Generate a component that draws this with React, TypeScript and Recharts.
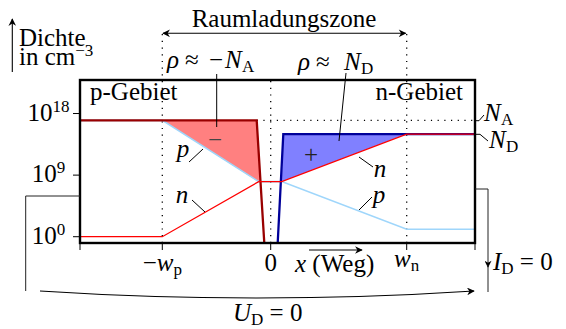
import { ComposedChart, Line, Area, XAxis, YAxis, ReferenceLine } from "recharts";

const W = 566;
const H = 329;
const FONT = "'Liberation Serif', serif";

// x: position along the diode (0 = junction), y: log10 of the density in cm^-3
const xRange = [-19.07, 20.43];
const yRange = [-0.92, 22.9];
const xTickPos = [-19.07, -10.84, 0, 13.6, 20.43];
const xTickMain = ["", "−w", "0", "w", ""];
const xTickSub = ["", "p", "", "n", ""];
const yTickPos = [0, 9, 18];
const yTickExp = ["0", "9", "18"];

// electrons
const nX = [-19.07, -10.84, -1.2, 1.1, 13.6, 20.43];
const nLog = [0, 0, 8.05, 8.05, 15, 15];
// holes
const pX = [-19.07, -10.84, -1.2, 1.1, 13.6, 20.43];
const pLog = [17, 17, 8.05, 8.05, 1.1, 1.1];
// acceptors
const naX = [-19.07, -1.4, -0.64];
const naLog = [17, 17, -0.92];
// donors
const ndX = [0.7, 1.26, 20.43];
const ndLog = [-0.92, 15, 15];
// negative space charge
const negX = [-10.84, -1.4, -1.07];
const negLow = [17, 8.2, 8.05];
const negHigh = [17, 17, 8.05];
// positive space charge
const posX = [1.1, 1.26, 13.6];
const posLow = [8.05, 8.14, 15];
const posHigh = [8.05, 15, 15];

const pts = (xs: number[], ys: number[]) => xs.map((x, i) => ({ x, v: ys[i] }));
const band = (xs: number[], lo: number[], hi: number[]) =>
    xs.map((x, i) => ({ x, r: [lo[i], hi[i]] }));

function XTick(props: any) {
    const { x, payload } = props;
    const i = xTickPos.indexOf(payload.value);
    if (i < 0 || !xTickMain[i]) return <g />;
    const main = xTickMain[i];
    const sub = xTickSub[i];
    const base = 243 + (sub === "n" ? 24 : 28);
    return (
        <text x={x} y={base} textAnchor="middle" style={{ fontFamily: FONT, fontSize: 25 }} fill="#000">
            {main.startsWith("−") ? <tspan>−</tspan> : null}
            {main === "0" ? <tspan>0</tspan> : <tspan fontStyle="italic">w</tspan>}
            {sub ? <tspan dy={4} fontSize={17}>{sub}</tspan> : null}
        </text>
    );
}

function YTick(props: any) {
    const { y, payload } = props;
    const i = yTickPos.indexOf(payload.value);
    return (
        <text x={48.5} y={y + 7} textAnchor="middle" style={{ fontFamily: FONT, fontSize: 25 }} fill="#000">
            10<tspan dy={-9} fontSize={17}>{yTickExp[i]}</tspan>
        </text>
    );
}

const dots = "1.2 5.5";

export default function App() {
    return (
        <div style={{ position: "absolute", left: 0, top: 0, width: W, height: H, background: "#fff", fontFamily: FONT }}>
            <ComposedChart width={W} height={H} margin={{ top: 80, right: 91, bottom: 46, left: 20 }}>
                <XAxis
                    type="number"
                    dataKey="x"
                    domain={xRange}
                    allowDataOverflow
                    ticks={xTickPos}
                    interval={0}
                    height={40}
                    tickSize={7}
                    axisLine={false}
                    tickLine={{ stroke: "#000", strokeWidth: 1 }}
                    tick={XTick}
                />
                <YAxis
                    type="number"
                    domain={yRange}
                    allowDataOverflow
                    ticks={yTickPos}
                    interval={0}
                    width={60}
                    tickSize={7}
                    axisLine={false}
                    tickLine={{ stroke: "#000", strokeWidth: 1 }}
                    tick={YTick}
                />
                <ReferenceLine
                    segment={[{ x: xTickPos[1], y: yRange[0] }, { x: xTickPos[1], y: 29.8 }]}
                    ifOverflow="visible"
                    stroke="#000"
                    strokeWidth={1.3}
                    strokeDasharray={dots}
                />
                <ReferenceLine x={0} stroke="#000" strokeWidth={1.3} strokeDasharray={dots} />
                <ReferenceLine
                    segment={[{ x: xTickPos[3], y: yRange[0] }, { x: xTickPos[3], y: 29.8 }]}
                    ifOverflow="visible"
                    stroke="#000"
                    strokeWidth={1.3}
                    strokeDasharray={dots}
                />
                <ReferenceLine
                    segment={[{ x: naX[1], y: naLog[0] }, { x: xRange[1], y: naLog[0] }]}
                    stroke="#000"
                    strokeWidth={1.3}
                    strokeDasharray={dots}
                />
                <Area
                    data={band(negX, negLow, negHigh)}
                    dataKey="r"
                    type="linear"
                    fill="#ff8080"
                    fillOpacity={1}
                    stroke="none"
                    isAnimationActive={false}
                />
                <Area
                    data={band(posX, posLow, posHigh)}
                    dataKey="r"
                    type="linear"
                    fill="#8080ff"
                    fillOpacity={1}
                    stroke="none"
                    isAnimationActive={false}
                />
                <Line data={pts(pX, pLog)} dataKey="v" type="linear" stroke="#9fd6fb" strokeWidth={1.6} dot={false} activeDot={false} isAnimationActive={false} />
                <Line data={pts(naX, naLog)} dataKey="v" type="linear" stroke="#990000" strokeWidth={2.3} dot={false} activeDot={false} isAnimationActive={false} />
                <Line data={pts(ndX, ndLog)} dataKey="v" type="linear" stroke="#000099" strokeWidth={2.3} dot={false} activeDot={false} isAnimationActive={false} />
                <Line data={pts(nX, nLog)} dataKey="v" type="linear" stroke="#ff0000" strokeWidth={1.3} dot={false} activeDot={false} isAnimationActive={false} />
            </ComposedChart>
            <svg
                width={W}
                height={H}
                style={{ position: "absolute", left: 0, top: 0, pointerEvents: "none", fontFamily: FONT, fontSize: 25 }}
            >
                <defs>
                    <marker id="ah" viewBox="0 0 10 10" refX="9" refY="5" markerWidth="8" markerHeight="7" orient="auto-start-reverse">
                        <path d="M0,0 L10,5 L0,10 L3,5 z" fill="#000" />
                    </marker>
                </defs>
                <rect x={80} y={80} width={395} height={163} fill="none" stroke="#000" strokeWidth={2.4} />

                <path d="M12.3,72 L12.3,19" stroke="#000" strokeWidth={1.1} markerEnd="url(#ah)" />
                <text x={19} y={46}>Dichte</text>
                <text x={19} y={65}>in cm<tspan dy={-9} fontSize={17}>−3</tspan></text>

                <path d="M163,33.3 L405.7,33.3" stroke="#000" strokeWidth={1.1} markerStart="url(#ah)" markerEnd="url(#ah)" />
                <text x={284} y={27} textAnchor="middle">Raumladungszone</text>

                <text y={68}>
                    <tspan x={167} fontStyle="italic">ρ</tspan>
                    <tspan x={185}>≈</tspan>
                    <tspan x={209}>−</tspan>
                    <tspan x={225} fontStyle="italic">N</tspan>
                    <tspan x={242} dy={4} fontSize={17}>A</tspan>
                </text>
                <path d="M216.7,74 L216.7,127" stroke="#000" strokeWidth={1} />
                <text y={70}>
                    <tspan x={298} fontStyle="italic">ρ</tspan>
                    <tspan x={316}>≈</tspan>
                    <tspan x={344} fontStyle="italic">N</tspan>
                    <tspan x={361} dy={4} fontSize={17}>D</tspan>
                </text>
                <path d="M346,73 L339,141" stroke="#000" strokeWidth={1} />

                <text x={90} y={100}>p-Gebiet</text>
                <text x={463} y={100} textAnchor="end">n-Gebiet</text>

                <text x={215} y={148} textAnchor="middle" fill="#444">−</text>
                <text x={311} y={163} textAnchor="middle" fill="#222">+</text>

                <text x={183} y={157} textAnchor="middle" fontStyle="italic">p</text>
                <path d="M189,162 L203,149" stroke="#000" strokeWidth={1} />
                <text x={182} y={203} textAnchor="middle" fontStyle="italic">n</text>
                <path d="M192,200 L205,212" stroke="#000" strokeWidth={1} />
                <text x={380} y={177} textAnchor="middle" fontStyle="italic">n</text>
                <path d="M359,157 L373,167" stroke="#000" strokeWidth={1} />
                <text x={379} y={203} textAnchor="middle" fontStyle="italic">p</text>
                <path d="M359,210 L372,197" stroke="#000" strokeWidth={1} />

                <path d="M475,120.7 L479,120.7 L484,115" stroke="#000" strokeWidth={1} fill="none" />
                <text y={121}>
                    <tspan x={484} fontStyle="italic">N</tspan>
                    <tspan x={501} dy={4} fontSize={17}>A</tspan>
                </text>
                <path d="M475,134.3 L480,134.3 L488,141" stroke="#000" strokeWidth={1} fill="none" />
                <text y={148}>
                    <tspan x={489} fontStyle="italic">N</tspan>
                    <tspan x={506} dy={4} fontSize={17}>D</tspan>
                </text>

                <path d="M309,250 L362,250" stroke="#000" strokeWidth={1.1} markerEnd="url(#ah)" />
                <text x={295} y={272}><tspan fontStyle="italic">x</tspan> (Weg)</text>

                <path d="M80,196 L25.7,196 L25.7,291" stroke="#222" strokeWidth={1} fill="none" />
                <path d="M40,291 Q257,305 474,291" stroke="#000" strokeWidth={1.1} fill="none" markerEnd="url(#ah)" />
                <text x={233} y={321}>
                    <tspan fontStyle="italic">U</tspan>
                    <tspan dy={4} fontSize={17}>D</tspan>
                    <tspan dy={-4}> = 0</tspan>
                </text>

                <path d="M475,189 L488,189 L488,267" stroke="#222" strokeWidth={1} fill="none" markerEnd="url(#ah)" />
                <path d="M488,265 L488,292" stroke="#222" strokeWidth={1} fill="none" />
                <text x={493} y={270}>
                    <tspan fontStyle="italic">I</tspan>
                    <tspan dy={4} fontSize={17}>D</tspan>
                    <tspan dy={-4}> = 0</tspan>
                </text>
            </svg>
        </div>
    );
}
